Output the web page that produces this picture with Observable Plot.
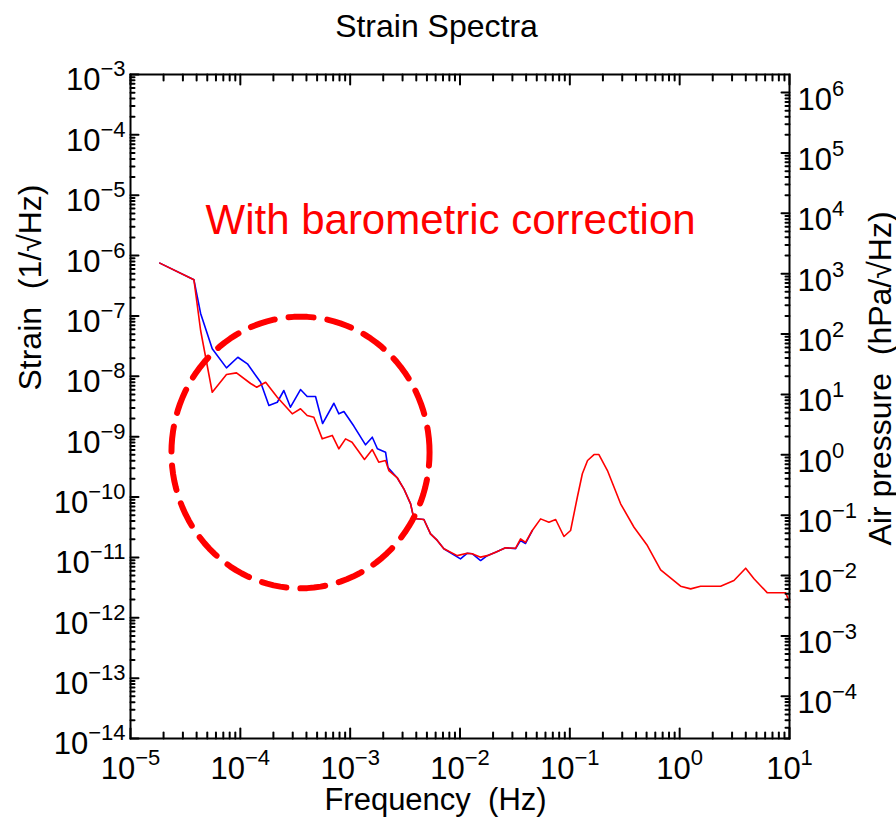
<!DOCTYPE html>
<html><head><meta charset="utf-8">
<script src="https://cdn.jsdelivr.net/npm/d3@7"></script>
<script src="https://cdn.jsdelivr.net/npm/@observablehq/plot@0.6"></script>
<style>
body{margin:0;background:#fff}
#chart svg{font-family:"Liberation Sans",Arial,sans-serif}
</style>
</head><body><div id="chart"></div>
<script>
// ---- data ----
const blueFreq = [1.85e-5,3.78e-5,4.35e-5,5.55e-5,7.48e-5,9.49e-5,1.16e-4,1.53e-4,1.82e-4,2.17e-4,2.49e-4,2.86e-4,3.53e-4,4.06e-4,4.84e-4,5.61e-4,7.11e-4,7.89e-4,8.77e-4,1.08e-3,1.38e-3,1.59e-3,1.77e-3,2.10e-3,2.21e-3,2.69e-3,3.08e-3,3.55e-3,3.80e-3,4.69e-3,5.39e-3,6.21e-3,7.13e-3,1.01e-2,1.16e-2,1.29e-2,1.54e-2,1.77e-2,2.11e-2,2.60e-2,3.21e-2,3.56e-2,3.95e-2,4.55e-2];
const blueStrain = [7.5e-7,3.97e-7,1.10e-7,2.86e-8,1.38e-8,2.07e-8,1.61e-8,7.98e-9,3.28e-9,3.72e-9,5.82e-9,3.08e-9,6.04e-9,4.62e-9,4.62e-9,1.65e-9,3.58e-9,2.39e-9,2.61e-9,1.50e-9,7.33e-10,9.8e-10,6.3e-10,5.53e-10,3.08e-10,2.07e-10,1.37e-10,7.72e-11,4.40e-11,4.25e-11,2.46e-11,1.91e-11,1.39e-11,9.46e-12,1.17e-11,1.15e-11,8.87e-12,1.07e-11,1.22e-11,1.44e-11,1.40e-11,1.91e-11,1.70e-11,2.79e-11];
const redFreq = [1.85e-5,3.78e-5,4.35e-5,5.55e-5,7.48e-5,9.23e-5,1.24e-4,1.41e-4,1.70e-4,2.17e-4,2.97e-4,3.53e-4,4.06e-4,4.67e-4,5.57e-4,6.87e-4,7.89e-4,9.08e-4,1.04e-3,1.35e-3,1.59e-3,1.82e-3,2.10e-3,2.25e-3,2.69e-3,3.08e-3,3.55e-3,3.80e-3,4.69e-3,5.39e-3,6.21e-3,7.13e-3,9.44e-3,1.16e-2,1.29e-2,1.54e-2,1.77e-2,2.11e-2,2.60e-2,3.21e-2,3.56e-2,3.95e-2,4.55e-2,5.42e-2,6.45e-2,7.43e-2,8.84e-2,0.1016,0.117,0.130,0.145,0.166,0.184,0.220,0.290,0.384,0.508,0.671,1.02,1.26,1.55,2.36,3.12,3.99,4.75,6.29,9.23,10];
const redStrain = [7.5e-7,3.97e-7,5.74e-8,5.45e-9,1.07e-8,1.14e-8,7.6e-9,6.59e-9,7.98e-9,4.51e-9,2.39e-9,2.90e-9,2.24e-9,2.10e-9,9.2e-10,1.05e-9,6.3e-10,9.2e-10,8.1e-10,4.19e-10,6.12e-10,3.78e-10,4.03e-10,2.75e-10,2.07e-10,1.37e-10,7.72e-11,4.40e-11,4.25e-11,2.46e-11,1.91e-11,1.39e-11,1.07e-11,1.17e-11,1.15e-11,1.01e-11,1.07e-11,1.22e-11,1.44e-11,1.42e-11,2.03e-11,1.78e-11,2.79e-11,4.35e-11,3.83e-11,4.25e-11,2.22e-11,2.79e-11,9.93e-11,2.43e-10,4.03e-10,5.06e-10,5.06e-10,2.75e-10,7.72e-11,3.16e-11,1.57e-11,6.22e-12,3.33e-12,3.01e-12,3.33e-12,3.33e-12,4.14e-12,6.62e-12,4.42e-12,2.59e-12,2.59e-12,1.81e-12];

const xTickExps = [-5,-4,-3,-2,-1,0,1];
const leftTickExps = [-14,-13,-12,-11,-10,-9,-8,-7,-6,-5,-4,-3];
const rightTickExps = [-4,-3,-2,-1,0,1,2,3,4,5,6];
const rightOffsetExp = 9.3; // air pressure axis = strain axis x 10^9.3

const titleText = "Strain Spectra";
const xLabel = "Frequency  (Hz)";
const yLabel = "Strain  (1/\u221AHz)";
const y2Label = "Air pressure  (hPa/\u221AHz)";
const noteText = "With barometric correction";

// annotation circle (center in data units, radius in decades)
const circleCenterFreq = 3.53e-4, circleCenterStrain = 5.47e-10;
const circleRadiusXDec = 1.175, circleRadiusYDec = 2.25;

// ---- build ----
const W = 896, H = 818, mL = 130, mR = 107, mT = 74, mB = 80;
const fw = W - mL - mR, fh = H - mT - mB;
const xLo = -5, xHi = 1, yLo = -14, yHi = -3;
const pxX = (xHi - xLo) / fw, pxY = (yHi - yLo) / fh; // decades per pixel
const blue = blueFreq.map((f,i)=>({f, s: blueStrain[i]}));
const red = redFreq.map((f,i)=>({f, s: redStrain[i]}));
const circle = d3.range(0, 121).map(i => {
  const t = i/120*2*Math.PI;
  return {f: circleCenterFreq*10**(circleRadiusXDec*Math.cos(t)), s: circleCenterStrain*10**(circleRadiusYDec*Math.sin(t))};
});

const minor = (lo, hi) => { const out=[]; for (let e=Math.floor(lo)-1; e<=Math.ceil(hi); e++) for (let m=2;m<=9;m++){const v=m*10**e; const l=Math.log10(v); if (l>lo && l<hi) out.push(v);} return out; };
const xMajor = xTickExps.map(e=>10**e);
const yMajor = leftTickExps.map(e=>10**e);
const y2Major = rightTickExps.map(e=>10**(e-rightOffsetExp));
const xMinor = minor(xLo, xHi);
const yMinor = minor(yLo, yHi);
const y2Minor = minor(yLo+rightOffsetExp, yHi+rightOffsetExp).map(v=>v/10**rightOffsetExp);
const expLabel = e => "10^" + String(e).replace("-", "\u2212");

// inward tick segments (as two-point lines, lengths in px converted to decades)
const segs = [];
const addX = (vals, len, edge, dir) => vals.forEach(v => { const id = segs.length; segs.push({id, f: v, s: 10**edge}, {id, f: v, s: 10**(edge + dir*len*pxY)}); });
const addY = (vals, len, edge, dir) => vals.forEach(v => { const id = segs.length; segs.push({id, s: v, f: 10**edge}, {id, s: v, f: 10**(edge + dir*len*pxX)}); });
addX(xMinor, 6, yLo, 1); addX(xMajor, 10, yLo, 1);
addX(xMinor, 6, yHi, -1); addX(xMajor, 10, yHi, -1);
addY(yMinor, 4, xLo, 1); addY(yMajor, 8, xLo, 1);
addY(y2Minor, 4, xHi, -1); addY(y2Major, 8, xHi, -1);

const plot = Plot.plot({
  width: W, height: H,
  marginLeft: mL, marginRight: mR, marginTop: mT, marginBottom: mB,
  x: {type: "log", domain: [10**xLo, 10**xHi]},
  y: {type: "log", domain: [10**yLo, 10**yHi]},
  style: {fontSize: "31px", color: "black", background: "white", overflow: "visible"},
  marks: [
    Plot.line(blue, {x: "f", y: "s", stroke: "#0000ff", strokeWidth: 1.6}),
    Plot.line(red, {x: "f", y: "s", stroke: "#ff0000", strokeWidth: 1.6}),
    Plot.line(circle, {x: "f", y: "s", stroke: "#ff0000", strokeWidth: 6, strokeDasharray: "25,14"}),
    Plot.line(segs, {x: "f", y: "s", z: "id", stroke: "black", strokeWidth: 2}),
    // tick labels
    Plot.axisX({anchor: "bottom", ticks: xMajor, tickSize: 0, tickPadding: 18, tickFormat: d => expLabel(Math.round(Math.log10(d))), label: null}),
    Plot.axisY({anchor: "left", ticks: yMajor, tickSize: 0, tickPadding: 5, dy: 6, tickFormat: d => expLabel(Math.round(Math.log10(d))), label: null}),
    Plot.axisY({anchor: "right", ticks: y2Major, tickSize: 0, tickPadding: 8, dy: 7, tickFormat: d => expLabel(Math.round(Math.log10(d) + rightOffsetExp)), label: null}),
    Plot.frame({stroke: "black", strokeWidth: 2}),
    // titles
    Plot.text([titleText], {frameAnchor: "top-left", dx: 306, dy: -48, textAnchor: "middle", lineAnchor: "middle", fontSize: 32}),
    Plot.text([xLabel], {frameAnchor: "bottom-left", dx: 305, dy: 62, textAnchor: "middle", lineAnchor: "middle", fontSize: 31}),
    Plot.text([yLabel], {frameAnchor: "left", dx: -100, dy: -119, rotate: -90, textAnchor: "middle", lineAnchor: "middle", fontSize: 32}),
    Plot.text([y2Label], {frameAnchor: "right", dx: 91, dy: -28, rotate: -90, textAnchor: "middle", lineAnchor: "middle", fontSize: 32}),
    Plot.text([noteText], {frameAnchor: "top-left", dx: 75, dy: 146, textAnchor: "start", lineAnchor: "middle", fontSize: 42, fill: "#ff0000"})
  ]
});

// superscript exponents
plot.querySelectorAll("text").forEach(t => {
  const s = t.textContent;
  const m = /^10\^(.+)$/.exec(s);
  if (!m) return;
  while (t.firstChild) t.removeChild(t.firstChild);
  const ns = "http://www.w3.org/2000/svg";
  const a = document.createElementNS(ns, "tspan"); a.textContent = "10"; t.appendChild(a);
  const b = document.createElementNS(ns, "tspan"); b.textContent = m[1];
  b.setAttribute("dy", "-14"); b.setAttribute("font-size", "22"); t.appendChild(b);
});
document.getElementById("chart").appendChild(plot);
</script>
</body></html>
